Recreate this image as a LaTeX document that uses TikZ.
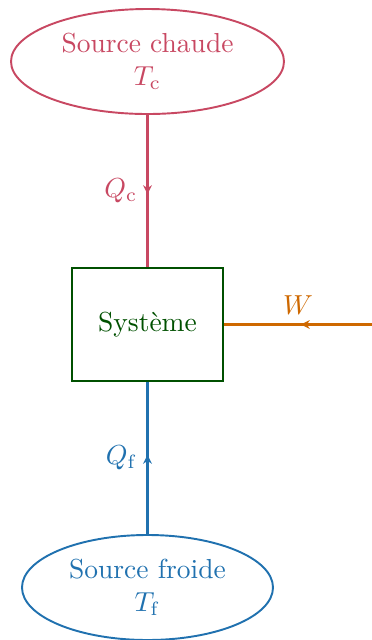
\documentclass[tikz,border=0pt]{standalone}
\usetikzlibrary{arrows.meta,decorations.markings,shapes.geometric}
\definecolor{hotc}{RGB}{200,72,98}
\definecolor{coldc}{RGB}{32,113,175}
\definecolor{workc}{RGB}{206,104,0}
\definecolor{sysc}{RGB}{0,80,0}
\begin{document}
\begin{tikzpicture}[x=0.3636pt,y=-0.3636pt,
  midarrow/.style={postaction={decorate},decoration={markings,mark=at position #1 with {\arrow{Stealth[length=3.2pt,width=3.2pt]}}}},
  src/.style={ellipse,draw,line width=0.7pt,align=center,inner sep=0pt},
  flow/.style={line width=0.75pt}]
\useasboundingbox (0,0) rectangle (372,640);
\node[src,hotc,text=hotc,minimum width=273*0.3636pt,minimum height=105*0.3636pt] (hot) at (147.5,61.5) {Source chaude\\$T_{\mathrm{c}}$};
\node[src,coldc,text=coldc,minimum width=251*0.3636pt,minimum height=105*0.3636pt] (cold) at (147.5,587.5) {Source froide\\$T_{\mathrm{f}}$};
\node[draw=sysc,text=sysc,line width=0.7pt,minimum width=151*0.3636pt,minimum height=113*0.3636pt] (sys) at (147.5,324.5) {Système};
\coordinate (wend) at (372,324.5);
\draw[flow,hotc,midarrow=0.52] (hot.south) -- node[left,text=hotc,xshift=0pt]{$Q_{\mathrm{c}}$} (sys.north);
\draw[flow,coldc,midarrow=0.52] (cold.north) -- node[left,text=coldc,xshift=0pt]{$Q_{\mathrm{f}}$} (sys.south);
\draw[flow,workc,midarrow=0.48] (wend) -- node[above,text=workc]{$W$} (sys.east);
\end{tikzpicture}
\end{document}
